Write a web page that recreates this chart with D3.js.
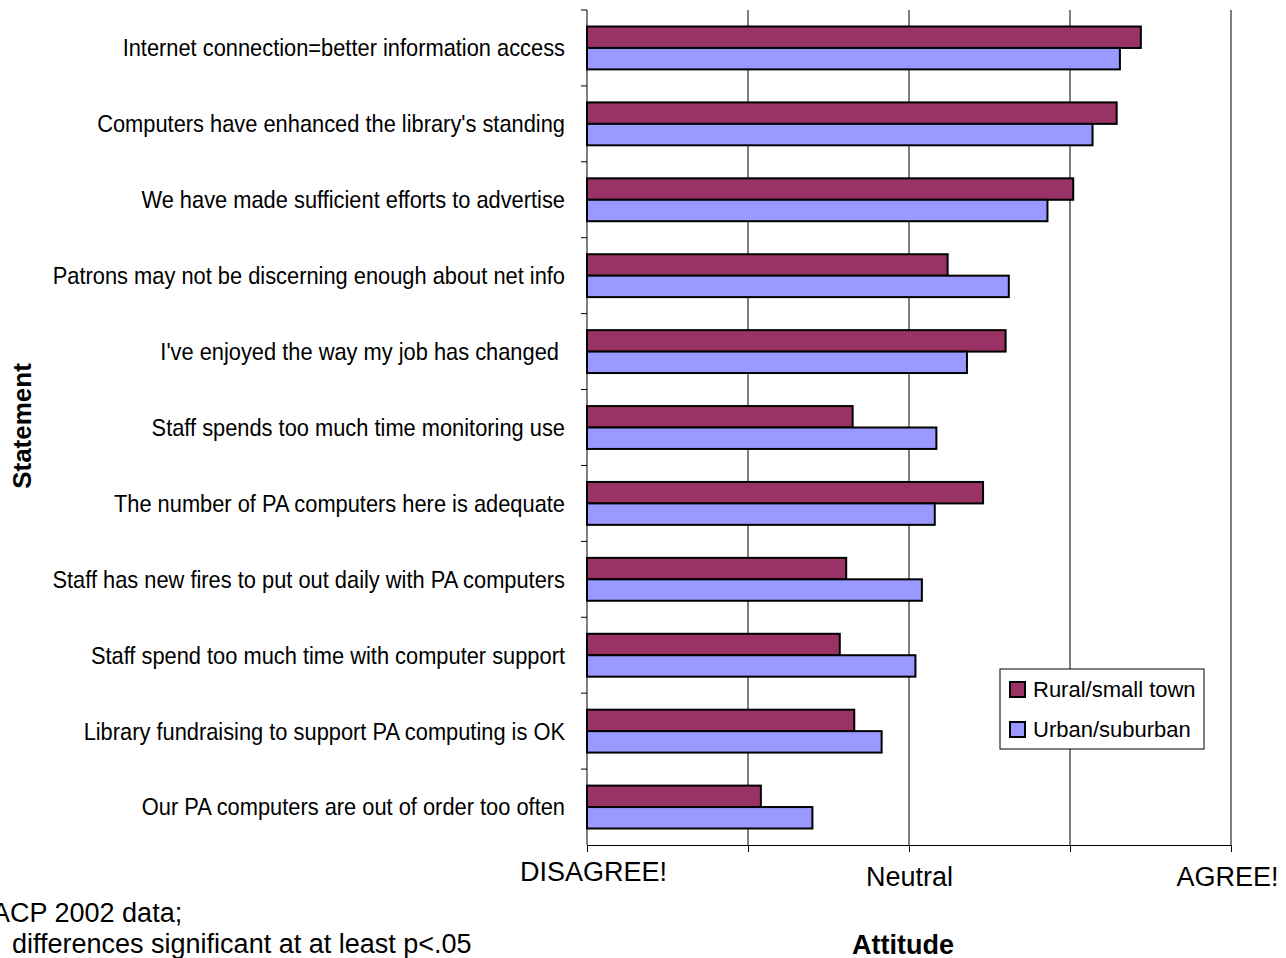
<!DOCTYPE html>
<html>
<head>
<meta charset="utf-8">
<script src="https://cdnjs.cloudflare.com/ajax/libs/d3/7.8.5/d3.min.js"></script>
<style>
  body { margin: 0; background: #fff; }
  svg { font-family: "Liberation Sans", Arial, sans-serif; }
</style>
</head>
<body>
<div id="chart"></div>
<script>
var statements = [
  "Internet connection=better information access",
  "Computers have enhanced the library's standing",
  "We have made sufficient efforts to advertise",
  "Patrons may not be discerning enough about net info",
  "I've enjoyed the way my job has changed\u00a0",
  "Staff spends too much time monitoring use",
  "The number of PA computers here is adequate",
  "Staff has new fires to put out daily with PA computers",
  "Staff spend too much time with computer support",
  "Library fundraising to support PA computing is OK",
  "Our PA computers are out of order too often"
];
var rural = [4.44, 4.29, 4.02, 3.24, 3.60, 2.65, 3.46, 2.61, 2.57, 2.66, 2.08];
var urban = [4.31, 4.14, 3.86, 3.62, 3.36, 3.17, 3.16, 3.08, 3.04, 2.83, 2.40];
var seriesNames = ["Rural/small town", "Urban/suburban"];
var seriesColors = ["#993366", "#9999FF"];
var xTicks = [1, 2, 3, 4, 5];
var xTickLabels = {1: "DISAGREE!", 3: "Neutral", 5: "AGREE!"};

var width = 1286, height = 958;
var plotLeft = 587, plotRight = 1231, plotTop = 10, plotBottom = 845;

var svg = d3.select("#chart").append("svg")
  .attr("width", width).attr("height", height);

var x = d3.scaleLinear().domain([1, 5]).range([plotLeft, plotRight]);
var y = d3.scaleBand().domain(statements).range([plotTop, plotBottom]).paddingInner(0).paddingOuter(0);
var inner = d3.scaleBand().domain(seriesNames).range([0, y.bandwidth()]).paddingInner(0).paddingOuter(0.77);

// gridlines
svg.append("g").selectAll("line")
  .data(xTicks.slice(1))
  .enter().append("line")
  .attr("x1", function(d){ return x(d); }).attr("x2", function(d){ return x(d); })
  .attr("y1", plotTop).attr("y2", plotBottom)
  .attr("stroke", "#000").attr("stroke-width", 1);

// bars
var data = [];
for (var i = 0; i < statements.length; i++) {
  data.push({s: statements[i], k: seriesNames[0], v: rural[i], c: seriesColors[0]});
  data.push({s: statements[i], k: seriesNames[1], v: urban[i], c: seriesColors[1]});
}
svg.append("g").selectAll("rect")
  .data(data)
  .enter().append("rect")
  .attr("x", x(1))
  .attr("y", function(d){ return y(d.s) + inner(d.k); })
  .attr("width", function(d){ return x(d.v) - x(1); })
  .attr("height", inner.bandwidth())
  .attr("fill", function(d){ return d.c; })
  .attr("stroke", "#000").attr("stroke-width", 2);

// y axis
var yAxis = svg.append("g");
yAxis.append("line").attr("x1", plotLeft).attr("x2", plotLeft).attr("y1", plotTop).attr("y2", plotBottom)
  .attr("stroke", "#000");
var bounds = statements.map(function(s){ return y(s); });
yAxis.selectAll("line.tick").data(bounds).enter().append("line")
  .attr("class", "tick")
  .attr("x1", plotLeft - 6).attr("x2", plotLeft)
  .attr("y1", function(d){ return d; }).attr("y2", function(d){ return d; })
  .attr("stroke", "#000");
// labels are a little condensed in the original
yAxis.selectAll("text").data(statements).enter().append("text")
  .attr("transform", function(d){ return "translate(565," + (y(d) + y.bandwidth() / 2) + ") scale(0.91,1)"; })
  .attr("dy", "0.35em")
  .attr("text-anchor", "end")
  .attr("font-size", 24)
  .style("white-space", "pre")
  .text(function(d){ return d; });

// x axis
var xAxis = svg.append("g").attr("transform", "translate(0," + plotBottom + ")")
  .call(d3.axisBottom(x).tickValues(xTicks).tickSize(7).tickSizeOuter(0)
    .tickFormat(function(d){ return xTickLabels[d] || ""; }));
xAxis.select(".domain").attr("stroke", "#000");
xAxis.selectAll(".tick line").attr("stroke", "#000");
xAxis.selectAll(".tick text")
  .attr("font-size", 27)
  .attr("font-family", "Liberation Sans, Arial, sans-serif")
  .attr("fill", "#000")
  .attr("y", function(d){ return d === 1 ? 17 : 22; })
  .attr("dx", function(d){ return d === 1 ? 6 : (d === 5 ? -4 : 0); });

// axis titles
svg.append("text")
  .attr("x", 903).attr("y", 954)
  .attr("text-anchor", "middle")
  .attr("font-size", 27).attr("font-weight", "bold")
  .text("Attitude");
svg.append("text")
  .attr("transform", "translate(31,426) rotate(-90)")
  .attr("text-anchor", "middle")
  .attr("font-size", 26).attr("font-weight", "bold")
  .text("Statement");

// footnote
svg.append("text").attr("x", -8).attr("y", 922).attr("font-size", 27).text("ACP 2002 data;");
svg.append("text").attr("x", 12).attr("y", 953).attr("font-size", 27).text("differences significant at at least p<.05");

// legend
var lg = svg.append("g").attr("transform", "translate(1000,669)");
lg.append("rect").attr("width", 204).attr("height", 80)
  .attr("fill", "#fff").attr("stroke", "#000").attr("stroke-width", 1);
seriesNames.forEach(function(n, i) {
  lg.append("rect").attr("x", 10).attr("y", 13 + i * 40).attr("width", 15).attr("height", 15)
    .attr("fill", seriesColors[i]).attr("stroke", "#000").attr("stroke-width", 2);
  lg.append("text").attr("x", 33).attr("y", 20.5 + i * 40).attr("dy", "0.35em")
    .attr("font-size", 22).text(n);
});
</script>
</body>
</html>
